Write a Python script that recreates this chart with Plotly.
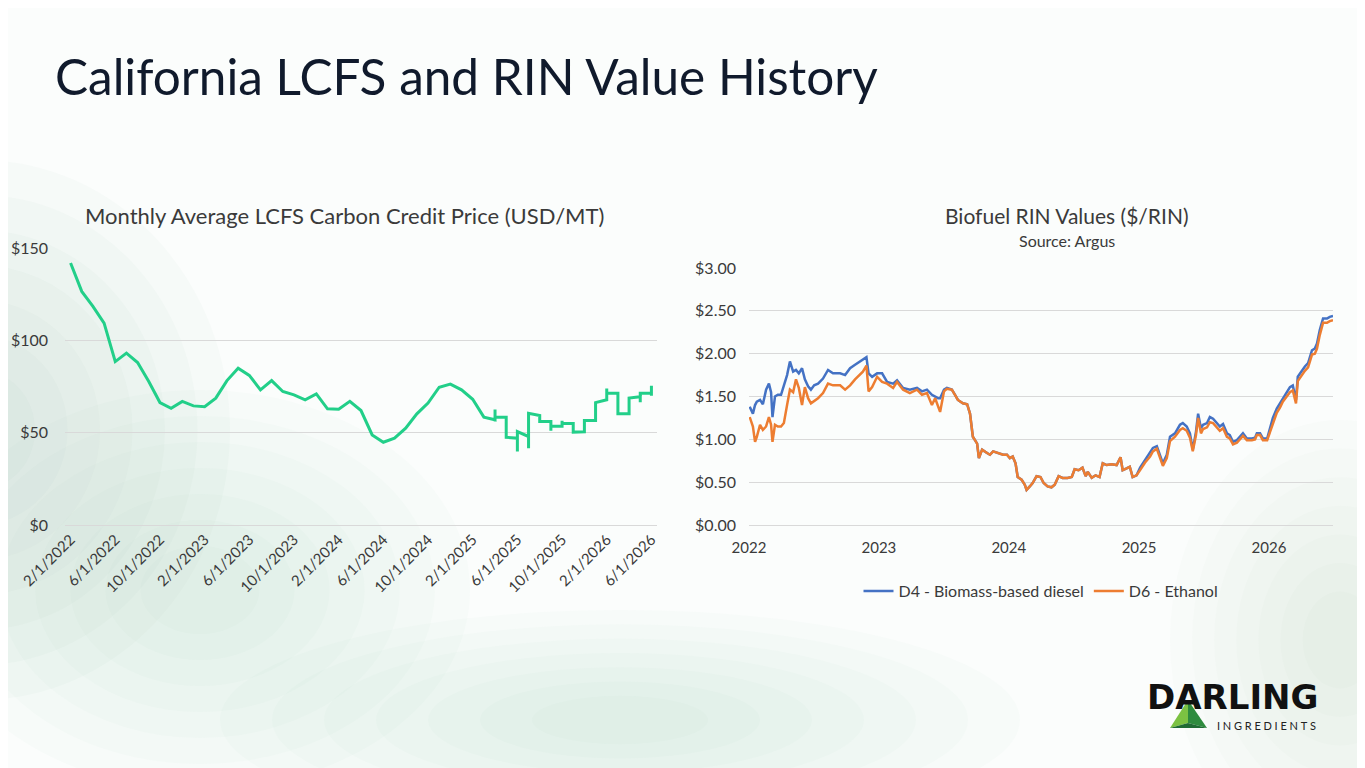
import plotly.graph_objects as go

# --- LCFS monthly average (USD/MT); later months hold several weekly prints ---
lcfs_months = [
    "2/1/2022", "3/1/2022", "4/1/2022", "5/1/2022", "6/1/2022", "7/1/2022", "8/1/2022",
    "9/1/2022", "10/1/2022", "11/1/2022", "12/1/2022", "1/1/2023", "2/1/2023", "3/1/2023",
    "4/1/2023", "5/1/2023", "6/1/2023", "7/1/2023", "8/1/2023", "9/1/2023", "10/1/2023",
    "11/1/2023", "12/1/2023", "1/1/2024", "2/1/2024", "3/1/2024", "4/1/2024", "5/1/2024",
    "6/1/2024", "7/1/2024", "8/1/2024", "9/1/2024", "10/1/2024", "11/1/2024", "12/1/2024",
    "1/1/2025", "2/1/2025", "3/1/2025", "4/1/2025", "5/1/2025", "6/1/2025", "7/1/2025",
    "8/1/2025", "9/1/2025", "10/1/2025", "11/1/2025", "12/1/2025", "1/1/2026", "2/1/2026",
    "3/1/2026", "4/1/2026", "5/1/2026", "6/1/2026",
]
lcfs_values = [
    [141.9], [126.5], [118.4], [109.3], [88.5], [93.1], [88.0],
    [77.7], [66.3], [63.2], [66.9], [64.5], [64.1], [68.7],
    [78.2], [84.9], [81.0], [73.2], [78.2], [72.3], [70.5],
    [67.8], [71.0], [62.9], [62.7], [67.0], [62.0], [48.8],
    [44.8], [47.0], [52.4], [60.2], [66.0], [74.6], [76.3],
    [73.2], [68.1], [58.4], [57.0, 62.5, 56.0, 58.4], [58.4, 47.5], [47.0, 39.8, 50.6], [47.9, 41.6, 60.5],
    [59.3, 56.0], [56.0, 51.0, 53.5], [53.5, 56.5, 55.0], [55.0, 50.3], [50.5, 56.6], [56.6, 66.3], [67.8, 73.9, 71.4],
    [71.4, 60.2], [60.2, 68.7], [69.5, 66.5, 71.4], [71.4, 75.4, 70.0],
]
lcfs_ticks = lcfs_months[::4]

# --- Biofuel RIN values ($/RIN) ---
rin_dates = [
    "2022-01-03", "2022-01-12", "2022-01-18", "2022-01-23", "2022-02-01", "2022-02-09",
    "2022-02-18", "2022-02-26", "2022-03-04", "2022-03-08", "2022-03-15", "2022-03-23",
    "2022-04-01", "2022-04-09", "2022-04-18", "2022-04-26", "2022-05-05", "2022-05-13",
    "2022-05-21", "2022-05-30", "2022-06-07", "2022-06-16", "2022-06-24", "2022-07-03",
    "2022-07-14", "2022-07-28", "2022-08-11", "2022-08-25", "2022-09-14", "2022-09-28",
    "2022-10-12", "2022-10-26", "2022-11-09", "2022-11-17", "2022-11-27", "2022-12-03",
    "2022-12-13", "2022-12-27", "2023-01-10", "2023-01-24", "2023-02-10", "2023-02-21",
    "2023-03-10", "2023-03-29", "2023-04-18", "2023-05-02", "2023-05-16", "2023-05-30",
    "2023-06-08", "2023-06-16", "2023-06-22", "2023-07-03", "2023-07-11", "2023-07-25",
    "2023-08-03", "2023-08-11", "2023-08-25", "2023-09-06", "2023-09-14", "2023-09-22",
    "2023-09-28", "2023-10-04", "2023-10-09", "2023-10-18", "2023-11-01", "2023-11-09",
    "2023-11-18", "2023-12-02", "2023-12-16", "2023-12-27", "2024-01-04", "2024-01-12",
    "2024-01-20", "2024-01-26", "2024-02-06", "2024-02-15", "2024-02-20", "2024-02-29",
    "2024-03-08", "2024-03-19", "2024-03-30", "2024-04-08", "2024-04-19", "2024-04-30",
    "2024-05-09", "2024-05-20", "2024-05-31", "2024-06-14", "2024-06-26", "2024-07-04",
    "2024-07-15", "2024-07-26", "2024-08-04", "2024-08-10", "2024-08-21", "2024-09-01",
    "2024-09-12", "2024-09-21", "2024-10-02", "2024-10-16", "2024-10-30", "2024-11-10",
    "2024-11-16", "2024-11-27", "2024-12-06", "2024-12-14", "2024-12-25", "2025-01-04",
    "2025-01-18", "2025-02-01", "2025-02-09", "2025-02-20", "2025-03-01", "2025-03-09",
    "2025-03-20", "2025-03-29", "2025-04-12", "2025-04-26", "2025-05-04", "2025-05-15",
    "2025-05-24", "2025-06-01", "2025-06-10", "2025-06-16", "2025-06-24", "2025-06-30",
    "2025-07-11", "2025-07-19", "2025-07-28", "2025-08-08", "2025-08-16", "2025-08-25",
    "2025-09-05", "2025-09-13", "2025-09-22", "2025-10-03", "2025-10-12", "2025-10-20",
    "2025-10-31", "2025-11-14", "2025-11-23", "2025-11-28", "2025-12-07", "2025-12-15",
    "2025-12-27", "2026-01-04", "2026-01-12", "2026-01-23", "2026-02-01", "2026-02-09",
    "2026-02-20", "2026-03-01", "2026-03-09", "2026-03-18", "2026-03-23", "2026-04-04",
    "2026-04-12", "2026-04-21", "2026-05-02", "2026-05-10", "2026-05-16", "2026-05-24",
    "2026-06-02", "2026-06-13", "2026-06-21", "2026-06-30",
]
d4_values = [
    1.38, 1.30, 1.40, 1.44, 1.46, 1.41, 1.58, 1.65, 1.55, 1.26, 1.50, 1.52,
    1.52, 1.62, 1.75, 1.91, 1.79, 1.81, 1.77, 1.83, 1.70, 1.62, 1.58, 1.63,
    1.65, 1.71, 1.81, 1.77, 1.77, 1.75, 1.83, 1.87, 1.91, 1.93, 1.96, 1.77,
    1.73, 1.77, 1.77, 1.67, 1.65, 1.69, 1.60, 1.58, 1.60, 1.56, 1.58, 1.52,
    1.50, 1.48, 1.48, 1.58, 1.60, 1.58, 1.52, 1.46, 1.42, 1.41, 1.30, 1.03,
    0.99, 0.95, 0.78, 0.88, 0.84, 0.82, 0.86, 0.84, 0.82, 0.82, 0.78, 0.80,
    0.72, 0.56, 0.53, 0.47, 0.41, 0.45, 0.49, 0.57, 0.56, 0.49, 0.45, 0.44,
    0.47, 0.57, 0.55, 0.55, 0.56, 0.65, 0.64, 0.67, 0.57, 0.62, 0.55, 0.58,
    0.56, 0.72, 0.70, 0.71, 0.70, 0.79, 0.64, 0.66, 0.68, 0.56, 0.58, 0.67,
    0.76, 0.84, 0.90, 0.92, 0.80, 0.72, 0.82, 1.03, 1.07, 1.17, 1.19, 1.15,
    1.07, 0.88, 1.09, 1.30, 1.13, 1.17, 1.19, 1.26, 1.24, 1.19, 1.15, 1.18,
    1.07, 1.05, 0.97, 0.99, 1.03, 1.07, 1.01, 1.01, 1.02, 1.07, 1.07, 1.01,
    1.01, 1.13, 1.25, 1.36, 1.42, 1.48, 1.56, 1.61, 1.63, 1.46, 1.73, 1.81,
    1.85, 1.89, 2.04, 2.06, 2.12, 2.28, 2.41, 2.41, 2.43, 2.44,
]
d6_values = [
    1.26, 1.15, 0.97, 1.03, 1.17, 1.11, 1.15, 1.26, 1.17, 0.97, 1.17, 1.15,
    1.15, 1.19, 1.40, 1.58, 1.55, 1.70, 1.60, 1.40, 1.61, 1.48, 1.42, 1.45,
    1.48, 1.54, 1.65, 1.63, 1.63, 1.58, 1.63, 1.70, 1.75, 1.79, 1.86, 1.56,
    1.61, 1.73, 1.67, 1.65, 1.60, 1.67, 1.58, 1.54, 1.58, 1.52, 1.54, 1.40,
    1.48, 1.40, 1.32, 1.56, 1.59, 1.58, 1.52, 1.46, 1.42, 1.41, 1.30, 1.03,
    0.99, 0.95, 0.78, 0.88, 0.84, 0.82, 0.86, 0.84, 0.82, 0.82, 0.78, 0.80,
    0.72, 0.56, 0.53, 0.47, 0.41, 0.45, 0.49, 0.57, 0.56, 0.49, 0.45, 0.44,
    0.47, 0.57, 0.55, 0.55, 0.56, 0.65, 0.64, 0.67, 0.57, 0.62, 0.55, 0.58,
    0.56, 0.72, 0.70, 0.71, 0.70, 0.79, 0.64, 0.66, 0.68, 0.56, 0.58, 0.64,
    0.73, 0.80, 0.86, 0.89, 0.78, 0.69, 0.78, 0.98, 1.03, 1.11, 1.13, 1.10,
    1.02, 0.86, 1.05, 1.25, 1.07, 1.12, 1.14, 1.20, 1.19, 1.14, 1.10, 1.13,
    1.03, 1.01, 0.94, 0.96, 1.00, 1.04, 0.99, 0.99, 1.00, 1.05, 1.05, 0.99,
    0.99, 1.09, 1.20, 1.31, 1.37, 1.44, 1.50, 1.55, 1.57, 1.42, 1.68, 1.76,
    1.80, 1.84, 1.99, 2.00, 2.06, 2.22, 2.36, 2.36, 2.38, 2.39,
]

# the page puts the figure 8px in from the top-left corner
OFF = 8
W, H = 1365 - OFF, 768 - OFF
FONT = "Lato"
TXT = "#3a3a3a"


def px(x):
    return (x - OFF) / W


def py(y):
    return 1 - (y - OFF) / H


# flatten the LCFS months (repeated category = same x slot, gives the vertical steps)
lcfs_x, lcfs_y = [], []
for m, vals in zip(lcfs_months, lcfs_values):
    for v in vals:
        lcfs_x.append(m)
        lcfs_y.append(v)

fig = go.Figure()

fig.add_trace(go.Scatter(
    x=lcfs_x, y=lcfs_y, mode="lines", xaxis="x", yaxis="y",
    line=dict(color="#22cf89", width=3), showlegend=False,
))
fig.add_trace(go.Scatter(
    x=rin_dates, y=d4_values, mode="lines", xaxis="x2", yaxis="y2",
    name="D4 - Biomass-based diesel", line=dict(color="#4472c4", width=2.5),
))
fig.add_trace(go.Scatter(
    x=rin_dates, y=d6_values, mode="lines", xaxis="x2", yaxis="y2",
    name="D6 - Ethanol", line=dict(color="#ed7d31", width=2.5),
))

# soft green mist in the background: each blob is a stack of faint ellipses
mist = [
    (-20, 430, 250, 270, 0.05),
    (200, 590, 270, 200, 0.04),
    (620, 720, 400, 110, 0.04),
    (1340, 640, 170, 220, 0.035),
]
shapes = []
for cx, cy, rx, ry, op in mist:
    for k in range(7):
        s = 1 - k * 0.13
        shapes.append(dict(
            type="circle", xref="paper", yref="paper", layer="below",
            x0=px(cx - rx * s), x1=px(cx + rx * s),
            y0=py(cy + ry * s), y1=py(cy - ry * s),
            fillcolor="#9ccbb2", opacity=op, line=dict(width=0),
        ))

# logo pyramid
shapes.append(dict(type="path", xref="paper", yref="paper",
                   path=f"M {px(1188)},{py(700)} L {px(1170)},{py(728)} L {px(1188)},{py(723)} Z",
                   fillcolor="#7cc242", line=dict(width=0)))
shapes.append(dict(type="path", xref="paper", yref="paper",
                   path=f"M {px(1188)},{py(700)} L {px(1188)},{py(723)} L {px(1207)},{py(728)} Z",
                   fillcolor="#2e8b3e", line=dict(width=0)))
shapes.append(dict(type="path", xref="paper", yref="paper",
                   path=f"M {px(1170)},{py(728)} L {px(1188)},{py(723)} L {px(1207)},{py(728)} Z",
                   fillcolor="#1f6b33", line=dict(width=0)))


def note(text, x, y, size, color=TXT, family=FONT, xanchor="center"):
    return dict(text=text, x=px(x), y=py(y), xref="paper", yref="paper",
                xanchor=xanchor, yanchor="middle", showarrow=False,
                font=dict(family=family, size=size, color=color))


annotations = [
    note("California LCFS and RIN Value History", 53, 76, 49.5, "#101a2c", xanchor="left"),
    note("Monthly Average LCFS Carbon Credit Price (USD/MT)", 344, 216, 22),
    note("Biofuel RIN Values ($/RIN)", 1067, 215, 21),
    note("Source: Argus", 1067, 240, 16),
    note("<b>DARLING</b>", 1232, 697, 34, "#111111", "DejaVu Sans"),
    note("I\u2005N\u2005G\u2005R\u2005E\u2005D\u2005I\u2005E\u2005N\u2005T\u2005S", 1318, 725, 11,
         "#222222", xanchor="right"),
]

grid = "#d9d9d9"
fig.update_layout(
    width=W, height=H,
    margin=dict(l=0, r=0, t=0, b=0, autoexpand=False),
    paper_bgcolor="#fbfdfc", plot_bgcolor="rgba(0,0,0,0)",
    font=dict(family=FONT, color=TXT, size=15),
    shapes=shapes, annotations=annotations,
    xaxis=dict(domain=[px(65), px(657)], anchor="y", type="category", automargin=False,
               range=[-0.5, len(lcfs_months) - 0.5],
               tickvals=lcfs_ticks, ticktext=lcfs_ticks, tickangle=-45,
               showgrid=False, showline=False, ticks="", ticklabelstandoff=2,
               tickfont=dict(family=FONT, size=15, color=TXT)),
    yaxis=dict(domain=[py(525), py(248)], anchor="x", range=[0, 150], dtick=50,
               automargin=False, tickprefix="$", showgrid=True, gridcolor=grid,
               zeroline=True, zerolinecolor=grid, zerolinewidth=1,
               ticks="", ticklabelstandoff=16,
               tickfont=dict(family=FONT, size=16, color=TXT)),
    xaxis2=dict(domain=[px(749), px(1333)], anchor="y2", type="date", automargin=False,
                range=["2022-01-01", "2026-06-30"],
                tickvals=["2022-01-01", "2023-01-01", "2024-01-01", "2025-01-01", "2026-01-01"],
                tickformat="%Y", showgrid=False, showline=False, ticks="",
                ticklabelstandoff=12,
                tickfont=dict(family=FONT, size=15, color=TXT)),
    yaxis2=dict(domain=[py(525), py(268)], anchor="x2", range=[0, 3], dtick=0.5,
                automargin=False, tickprefix="$", tickformat=".2f", showgrid=True,
                gridcolor=grid, zeroline=True, zerolinecolor=grid, zerolinewidth=1,
                ticks="", ticklabelstandoff=12,
                tickfont=dict(family=FONT, size=16, color=TXT)),
    legend=dict(orientation="h", x=px(1041), xanchor="center", y=py(574), yanchor="top",
                bgcolor="rgba(0,0,0,0)", font=dict(family=FONT, size=16, color=TXT),
                itemwidth=30),
)

fig.write_html("out.html")
